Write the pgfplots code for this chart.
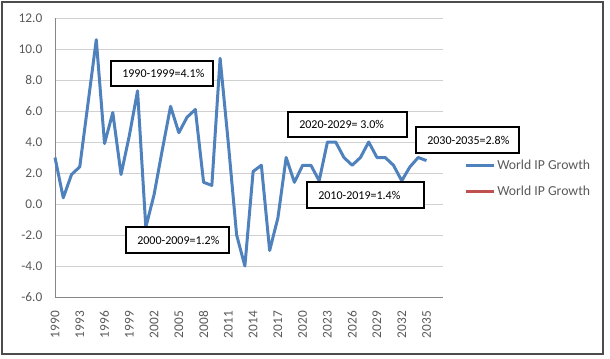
\documentclass[border=0pt]{standalone}
\usepackage{fontspec}
\setmainfont{Carlito}
\usepackage{pgfplots}
\pgfplotsset{compat=1.18}
\definecolor{ipblue}{HTML}{4F81BD}
\definecolor{ipred}{HTML}{C0504D}
\definecolor{gridc}{HTML}{D0D0D0}
\definecolor{axc}{HTML}{868686}
\definecolor{tickc}{HTML}{595959}
\begin{document}
\begin{tikzpicture}[x=0.75pt,y=0.75pt]
\useasboundingbox (0,0) rectangle (610,358);
\draw[line width=1pt, black!70] (2,4) rectangle (603,356);
\begin{axis}[
  at={(41.25pt,45.75pt)}, anchor=south west,
  scale only axis, width=291pt, height=209.25pt,
  xmin=1990, xmax=2037, ymin=-6, ymax=12,
  axis lines=left, axis line style={-, axc, line width=0.75pt},
  major tick length=0pt,
  ytick={-6,-4,...,12},
  xtick={1990,1993,...,2035},
  xticklabels={1990,1993,1996,1999,2002,2005,2008,2011,2014,2017,2020,2023,2026,2029,2032,2035},
  ymajorgrids, grid style={gridc, line width=0.75pt},
  yticklabel style={/pgf/number format/.cd, fixed, fixed zerofill, precision=1, assume math mode=true},
  ticklabel style={font=\fontsize{10}{12}\selectfont, text=tickc},
  xticklabel style={rotate=90, anchor=east},
  xticklabel shift=7pt,
  yticklabel shift=6pt,
  legend style={at={(1.0438,0.51)}, anchor=north west, draw=none, fill=none,
    font=\fontsize{10.3}{12}\selectfont, text=tickc, row sep=8pt,
    nodes={inner sep=1.5pt}},
  legend cell align=left,
  legend image code/.code={\draw[#1, line width=2.25pt] (0pt,0pt) -- (21pt,0pt);},
  clip=false,
]
\addplot[ipblue, line width=2.25pt, line join=round] coordinates {
(1990,3.0) (1991,0.4) (1992,1.9) (1993,2.4) (1994,6.5) (1995,10.6) (1996,3.9) (1997,5.9) (1998,1.9) (1999,4.4)
(2000,7.3) (2001,-1.5) (2002,0.6) (2003,3.5) (2004,6.3) (2005,4.6) (2006,5.6) (2007,6.1) (2008,1.4) (2009,1.2)
(2010,9.4) (2011,3.9) (2012,-2.0) (2013,-4.0) (2014,2.1) (2015,2.5) (2016,-3.0) (2017,-0.9) (2018,3.0) (2019,1.4)
(2020,2.5) (2021,2.5) (2022,1.5) (2023,4.0) (2024,4.0) (2025,3.0) (2026,2.5) (2027,3.0) (2028,4.0) (2029,3.0)
(2030,3.0) (2031,2.5) (2032,1.5) (2033,2.4) (2034,3.0) (2035,2.8)
};
\addlegendentry{World IP Growth}
\addlegendimage{ipred}
\addlegendentry{World IP Growth}
\end{axis}
\tikzset{bx/.style={draw=black, fill=white, line width=0.8pt}, bt/.style={anchor=west, inner sep=0pt, font=\fontsize{9}{11}\selectfont}}
\draw[bx] (111,297) rectangle (213,272); \node[bt] at (122,284.5) {1990-1999=4.1\%};
\draw[bx] (126,131) rectangle (229,105); \node[bt] at (137,118) {2000-2009=1.2\%};
\draw[bx] (288,246) rectangle (407,221); \node[bt] at (299,233.5) {2020-2029= 3.0\%};
\draw[bx] (307,176) rectangle (424,150); \node[bt] at (318,163) {2010-2019=1.4\%};
\draw[bx] (416,231) rectangle (519,205); \node[bt] at (427,218) {2030-2035=2.8\%};
\end{tikzpicture}
\end{document}
